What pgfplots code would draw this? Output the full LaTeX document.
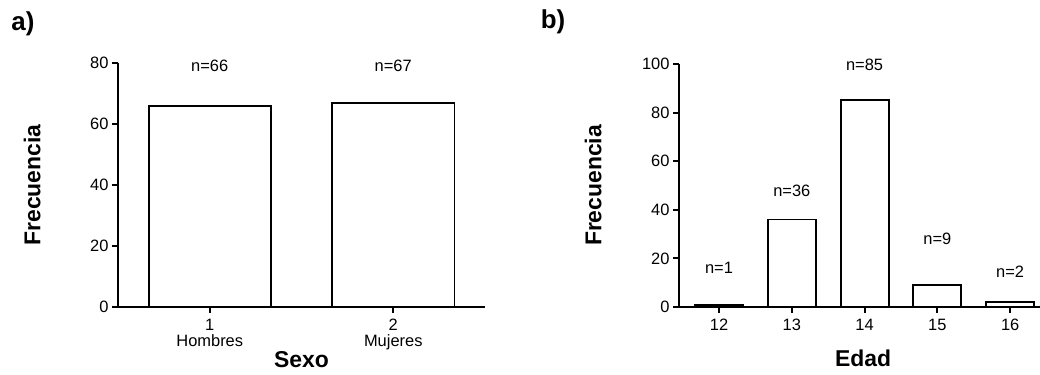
\documentclass[border=0pt]{standalone}
\usepackage{pgfplots}
\pgfplotsset{compat=1.18}
\usepackage{fontspec}
\setmainfont{Liberation Sans}

\pgfplotsset{
  prism/.style={
    scale only axis,
    anchor=south west,
    axis x line=bottom,
    axis y line=left,
    axis line style={-, line width=1.9bp, black},
    tick align=outside,
    major tick length=6bp,
    tick style={line width=1.9bp, black},
    ymin=0,
    /pgf/number format/assume math mode=true,
    tick label style={font=\fontsize{16.5}{15.5}\selectfont},
    xticklabel style={yshift=-3bp},
    label style={font=\fontsize{23}{24}\selectfont\bfseries},
    clip=false,
  },
  bars/.style={ybar, fill=white, draw=black, line width=1.9bp},
}
\tikzset{nlab/.style={font=\fontsize{16.5}{17}\selectfont}}

\begin{document}
\begin{tikzpicture}

% a) frequency by sex
\begin{axis}[prism,
  at={(118bp,68bp)}, width=367bp, height=244bp,
  xmin=0.5, xmax=2.5, ymax=80,
  xtick={1,2}, xticklabels={{1\\Hombres},{2\\Mujeres}},
  xticklabel style={align=center},
  ytick={0,20,40,60,80},
  ylabel={Frecuencia}, xlabel={Sexo},
  ylabel style={at={(axis description cs:-0.234,0.5)}, anchor=center},
  xlabel style={at={(axis description cs:0.5,-0.217)}, anchor=center},
]
\addplot[bars, bar width=0.667] coordinates {(1,66) (2,67)};
\node[nlab] at (axis cs:1,79) {n=66};
\node[nlab] at (axis cs:2,79) {n=67};
\end{axis}

% b) frequency by age
\begin{axis}[prism,
  at={(679bp,68bp)}, width=361bp, height=243bp,
  xmin=11.45, xmax=16.41, ymax=100,
  xtick={12,13,14,15,16},
  ytick={0,20,40,60,80,100},
  ylabel={Frecuencia}, xlabel={Edad},
  ylabel style={at={(axis description cs:-0.238,0.5)}, anchor=center},
  xlabel style={at={(axis description cs:0.51,-0.21)}, anchor=center},
]
\addplot[bars, bar width=0.66] coordinates {(12,1) (13,36) (14,85) (15,9) (16,2)};
\node[nlab] at (axis cs:12,16) {n=1};
\node[nlab] at (axis cs:13,48) {n=36};
\node[nlab] at (axis cs:14,99.5) {n=85};
\node[nlab] at (axis cs:15,28) {n=9};
\node[nlab] at (axis cs:16,14.4) {n=2};
\end{axis}

\node[font=\fontsize{26}{27}\selectfont\bfseries] at (23bp,351bp) {a)};
\node[font=\fontsize{26}{27}\selectfont\bfseries] at (553bp,353bp) {b)};

\pgfresetboundingbox
\path[use as bounding box] (0,0) rectangle (1040bp,375bp);
\end{tikzpicture}
\end{document}
